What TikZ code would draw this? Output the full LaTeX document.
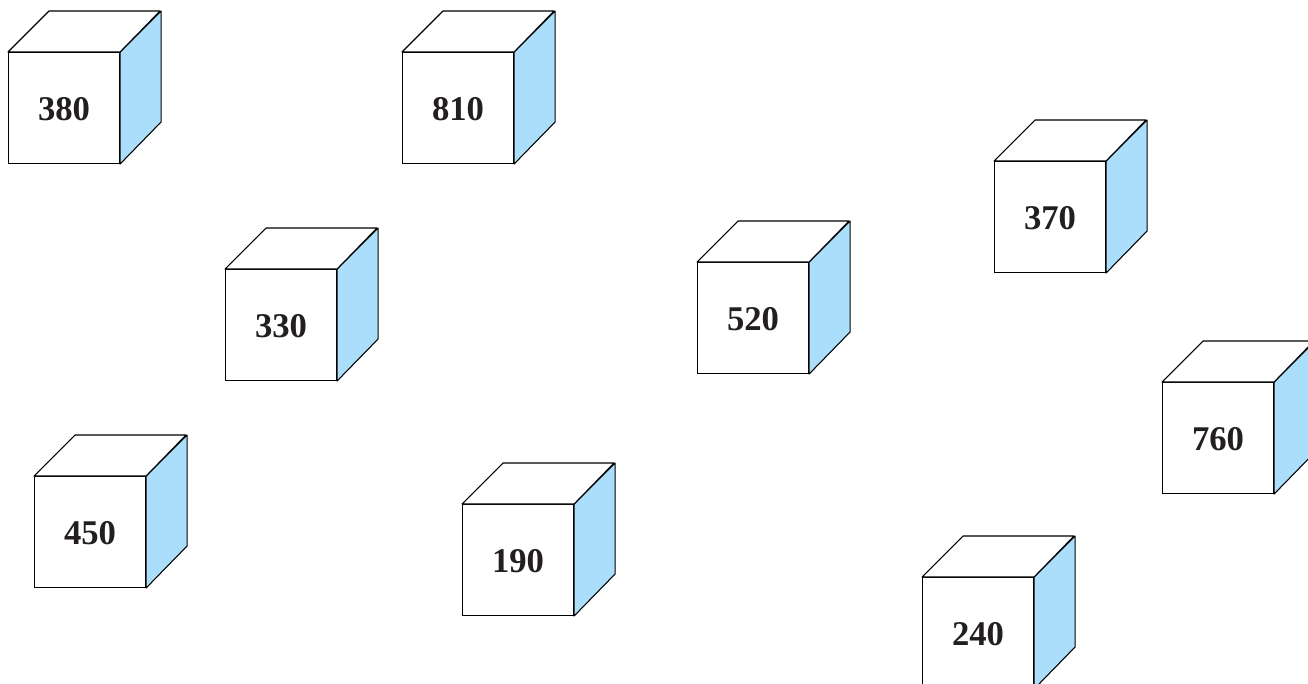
\documentclass[tikz,border=0pt]{standalone}
\usepackage{fontspec}
\setmainfont{Liberation Serif}
\definecolor{sideblue}{RGB}{170,222,250}
\definecolor{inkgray}{RGB}{35,31,32}
\tikzset{
  front/.style={draw, fill=white, line width=0.8pt, rectangle, inner sep=0pt,
    minimum width=83.25pt, minimum height=83.25pt, anchor=north west,
    text=inkgray, text depth=0pt, text height=0pt,
    font=\fontsize{26}{30}\selectfont\bfseries},
  edge/.style={draw, line width=0.8pt, line join=round},
}
\begin{document}
\begin{tikzpicture}[x=0.75pt,y=-0.75pt]
\useasboundingbox (0,0) rectangle (1308,684);
\foreach \n/\x/\y in {380/8/52, 810/402/52, 330/225/269, 520/697/262, 370/994/161, 760/1162/382, 450/34/476, 190/462/504, 240/922/577}{
  \node[front] (c\n) at (\x,\y) {};
  \node[font=\fontsize{26}{30}\selectfont\bfseries, text=inkgray, inner sep=0pt] (t\n) at ([yshift=-1pt]c\n.center) {\n};
  \path[edge, fill=sideblue] (c\n.north east) -- ++(41,-41) -- ++(0,111) -- (c\n.south east) -- cycle;
  \path[edge, fill=white] (c\n.north west) -- ++(41,-41) -- ++(111,0) -- (c\n.north east) -- cycle;
}
\end{tikzpicture}
\end{document}
